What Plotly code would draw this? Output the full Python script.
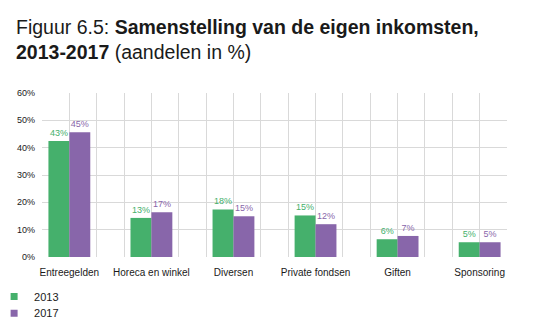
import plotly.graph_objects as go

categories = ["Entreegelden", "Horeca en winkel", "Diversen", "Private fondsen", "Giften", "Sponsoring"]
values_2013 = [42.4, 14.3, 17.4, 15.2, 6.5, 5.4]
values_2017 = [45.6, 16.4, 14.9, 12.0, 7.7, 5.4]
labels_2013 = ["43%", "13%", "18%", "15%", "6%", "5%"]
labels_2017 = ["45%", "17%", "15%", "12%", "7%", "5%"]
y_ticks = [0, 10, 20, 30, 40, 50, 60]

GREEN = "#45b06c"
PURPLE = "#8866aa"
GRID = "#d9d9d9"
FONT = "Liberation Sans, Arial, sans-serif"
TXT = "#1a1a1a"

xpos = list(range(len(categories)))
xrange = [-1 / 3, len(categories) - 2 / 3]

fig = go.Figure()
fig.add_trace(go.Bar(
    x=xpos, y=values_2013, name="2013", marker_color=GREEN, marker_line_width=0,
    text=labels_2013, textposition="outside", cliponaxis=False,
    textfont=dict(color=GREEN, size=9, family=FONT), hoverinfo="skip", showlegend=False,
))
fig.add_trace(go.Bar(
    x=xpos, y=values_2017, name="2017", marker_color=PURPLE, marker_line_width=0,
    text=labels_2017, textposition="outside", cliponaxis=False,
    textfont=dict(color=PURPLE, size=9, family=FONT), hoverinfo="skip", showlegend=False,
))
# legend proxies (small squares), one legend each for exact placement
for name, col, lg in [("2013", GREEN, "legend"), ("2017", PURPLE, "legend2")]:
    fig.add_trace(go.Scatter(
        x=[None], y=[None], mode="markers", name=name, legend=lg,
        marker=dict(symbol="square", size=7, color=col), hoverinfo="skip",
    ))
# invisible trace on the grid axis
fig.add_trace(go.Scatter(x=[None], y=[None], xaxis="x2", mode="markers",
                         showlegend=False, hoverinfo="skip"))

legend_common = dict(
    orientation="v", xanchor="left", yanchor="top",
    font=dict(size=11, family=FONT, color=TXT),
    itemwidth=30, tracegroupgap=0, bgcolor="rgba(0,0,0,0)",
)
lx = (-6 - 42) / 466

fig.update_layout(
    width=533, height=332,
    margin=dict(l=42, r=26, t=93, b=75, pad=0, autoexpand=False),
    paper_bgcolor="white", plot_bgcolor="white",
    barmode="group", bargap=0.49, bargroupgap=0,
    font=dict(family=FONT, color=TXT),
    title=dict(
        text="Figuur 6.5: <b>Samenstelling van de eigen inkomsten,</b><br><b>2013-2017</b> (aandelen in %)",
        x=16 / 533, xanchor="left", xref="container",
        y=1 - 34 / 332, yanchor="top", yref="container",
        font=dict(size=19.5, family=FONT, color=TXT),
    ),
    xaxis=dict(
        range=xrange,
        tickmode="array", tickvals=xpos, ticktext=categories,
        showgrid=False, zeroline=False, showline=False, ticks="",
        ticklabelstandoff=8,
        tickfont=dict(size=10, color=TXT, family=FONT),
        fixedrange=True,
    ),
    xaxis2=dict(
        overlaying="x", range=xrange, tickmode="linear", tick0=-1 / 3, dtick=1 / 3,
        showgrid=True, gridcolor=GRID, gridwidth=1, showticklabels=False,
        zeroline=False, showline=False, ticks="", fixedrange=True, side="bottom",
    ),
    yaxis=dict(
        range=[0, 60], tickmode="array", tickvals=y_ticks,
        ticktext=[f"{v}%" for v in y_ticks],
        showgrid=True, gridcolor=GRID, gridwidth=1,
        zeroline=False, showline=False, ticks="", ticklabelstandoff=6,
        tickfont=dict(size=9, color=TXT, family=FONT),
        fixedrange=True,
    ),
    legend=dict(x=lx, y=(257 - 282) / 164, **legend_common),
    legend2=dict(x=lx, y=(257 - 298.7) / 164, **legend_common),
    showlegend=True,
)

fig.write_html("out.html")
